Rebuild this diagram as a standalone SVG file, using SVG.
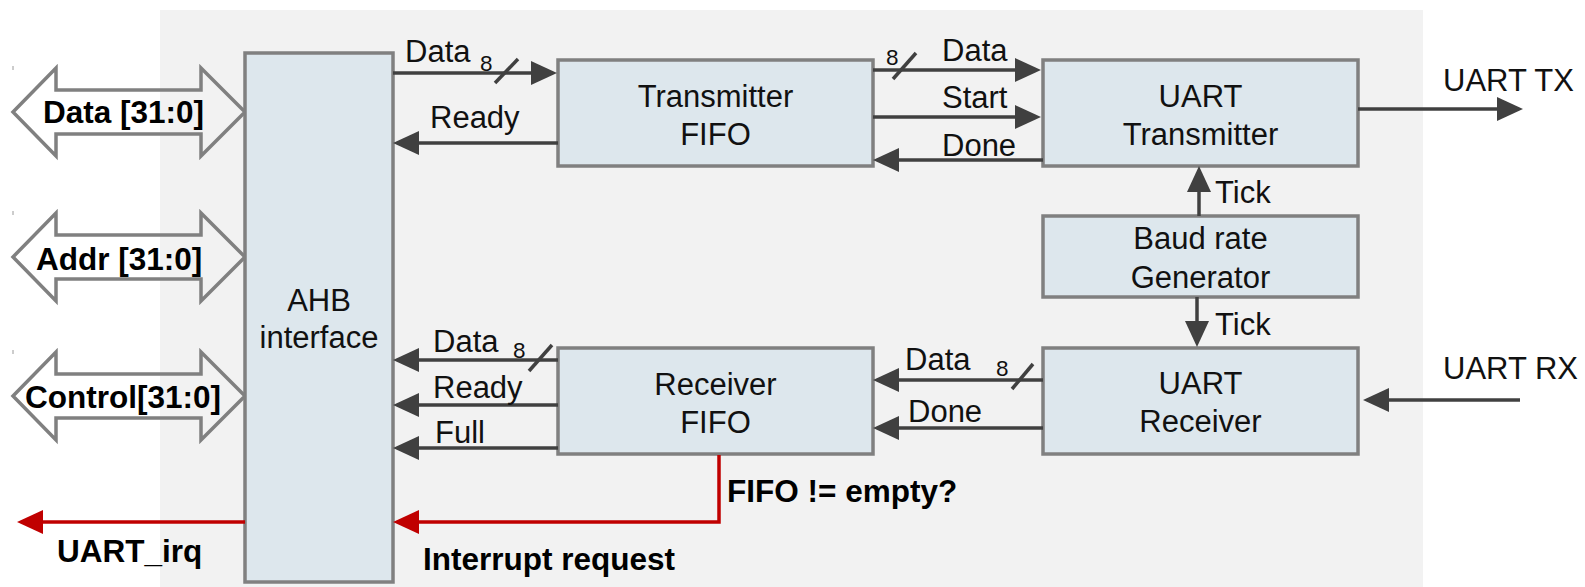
<svg xmlns="http://www.w3.org/2000/svg" width="1585" height="587" viewBox="0 0 1585 587">
  <style>
    .blk { fill: #dde7ed; stroke: #808080; stroke-width: 3.5; }
    .bus { fill: none; stroke: #808080; stroke-width: 3.5; stroke-linejoin: miter; }
    .wire { fill: none; stroke: #404040; stroke-width: 3.5; }
    .irq { fill: none; stroke: #c00000; stroke-width: 3.5; }
    .slash { stroke: #404040; stroke-width: 3.5; }
    .lbl { font-family: "Liberation Sans", Arial, sans-serif; font-size: 31px; fill: #111111; }
    .ctr { text-anchor: middle; }
    .bold { font-weight: bold; font-size: 31.5px; fill: #000000; }
    .width { font-family: "Liberation Sans", Arial, sans-serif; font-size: 22.5px; fill: #111111; }
    .tick { stroke: #9a9a9a; stroke-width: 1; }
  </style>
  <defs>
    <marker id="ah" markerUnits="userSpaceOnUse" markerWidth="26" markerHeight="24" refX="11" refY="12" orient="auto">
      <path d="M0,0 L26,12 L0,24 z" fill="#404040"/>
    </marker>
    <marker id="ahRed" markerUnits="userSpaceOnUse" markerWidth="26" markerHeight="24" refX="11" refY="12" orient="auto">
      <path d="M0,0 L26,12 L0,24 z" fill="#c00000"/>
    </marker>
  </defs>

  <!-- peripheral boundary -->
  <rect x="160" y="10" width="1263" height="577" fill="#f2f2f2"/>

  <!-- bus ports -->
  <g id="bus-data">
    <line class="tick" x1="13" y1="66" x2="13" y2="70"/>
    <polygon class="bus" points="13,112 56,68 56,90 201,90 201,68 245,112 201,156 201,134 56,134 56,156"/>
    <text class="lbl bold" x="43" y="123">Data [31:0]</text>
  </g>
  <g id="bus-addr">
    <line class="tick" x1="13" y1="211" x2="13" y2="215"/>
    <polygon class="bus" points="13,257 56,213 56,235 201,235 201,213 245,257 201,301 201,279 56,279 56,301"/>
    <text class="lbl bold" x="36" y="270">Addr [31:0]</text>
  </g>
  <g id="bus-control">
    <line class="tick" x1="13" y1="350" x2="13" y2="354"/>
    <polygon class="bus" points="13,396 56,352 56,374 201,374 201,352 245,396 201,440 201,418 56,418 56,440"/>
    <text class="lbl bold" x="25" y="408">Control[31:0]</text>
  </g>

  <!-- blocks -->
  <g id="ahb-interface">
    <rect class="blk" x="245" y="53" width="148" height="529"/>
    <text class="lbl ctr" x="319" y="311">AHB</text>
    <text class="lbl ctr" x="319" y="348">interface</text>
  </g>
  <g id="tx-fifo">
    <rect class="blk" x="558" y="60" width="315" height="106"/>
    <text class="lbl ctr" x="715.5" y="107">Transmitter</text>
    <text class="lbl ctr" x="715.5" y="145">FIFO</text>
  </g>
  <g id="uart-transmitter">
    <rect class="blk" x="1043" y="60" width="315" height="106"/>
    <text class="lbl ctr" x="1200.5" y="107">UART</text>
    <text class="lbl ctr" x="1200.5" y="145">Transmitter</text>
  </g>
  <g id="baud-generator">
    <rect class="blk" x="1043" y="216" width="315" height="81"/>
    <text class="lbl ctr" x="1200.5" y="249">Baud rate</text>
    <text class="lbl ctr" x="1200.5" y="288">Generator</text>
  </g>
  <g id="uart-receiver">
    <rect class="blk" x="1043" y="348" width="315" height="106"/>
    <text class="lbl ctr" x="1200.5" y="394">UART</text>
    <text class="lbl ctr" x="1200.5" y="432">Receiver</text>
  </g>
  <g id="rx-fifo">
    <rect class="blk" x="558" y="348" width="315" height="106"/>
    <text class="lbl ctr" x="715.5" y="395">Receiver</text>
    <text class="lbl ctr" x="715.5" y="433">FIFO</text>
  </g>

  <!-- signal connections -->
  <g id="connectors">
    <!-- transmit path -->
    <line class="wire" x1="393" y1="73" x2="542" y2="73" marker-end="url(#ah)"/>
    <line class="slash" x1="495" y1="83" x2="518" y2="59"/>
    <text class="width" x="480" y="71">8</text>
    <text class="lbl" x="405" y="62">Data</text>

    <line class="wire" x1="558" y1="143" x2="408" y2="143" marker-end="url(#ah)"/>
    <text class="lbl" x="430" y="128">Ready</text>

    <line class="wire" x1="873" y1="70" x2="1026" y2="70" marker-end="url(#ah)"/>
    <line class="slash" x1="893" y1="79" x2="916" y2="53"/>
    <text class="width" x="886" y="65">8</text>
    <text class="lbl" x="942" y="61">Data</text>

    <line class="wire" x1="873" y1="117" x2="1026" y2="117" marker-end="url(#ah)"/>
    <text class="lbl" x="942" y="108">Start</text>

    <line class="wire" x1="1043" y1="160" x2="888" y2="160" marker-end="url(#ah)"/>
    <text class="lbl" x="942" y="156">Done</text>

    <line class="wire" x1="1358" y1="109" x2="1508" y2="109" marker-end="url(#ah)"/>
    <text class="lbl" x="1443" y="91">UART TX</text>

    <!-- baud ticks -->
    <line class="wire" x1="1199" y1="216" x2="1199" y2="181" marker-end="url(#ah)"/>
    <text class="lbl" x="1215" y="203">Tick</text>
    <line class="wire" x1="1197" y1="297" x2="1197" y2="332" marker-end="url(#ah)"/>
    <text class="lbl" x="1215" y="335">Tick</text>

    <!-- receive path -->
    <line class="wire" x1="1520" y1="400" x2="1378" y2="400" marker-end="url(#ah)"/>
    <text class="lbl" x="1443" y="379">UART RX</text>

    <line class="wire" x1="1043" y1="380" x2="888" y2="380" marker-end="url(#ah)"/>
    <line class="slash" x1="1012" y1="389" x2="1033" y2="364"/>
    <text class="width" x="996" y="376">8</text>
    <text class="lbl" x="905" y="370">Data</text>

    <line class="wire" x1="1043" y1="428" x2="888" y2="428" marker-end="url(#ah)"/>
    <text class="lbl" x="908" y="422">Done</text>

    <line class="wire" x1="558" y1="360" x2="408" y2="360" marker-end="url(#ah)"/>
    <line class="slash" x1="529" y1="371" x2="552" y2="345"/>
    <text class="width" x="513" y="358">8</text>
    <text class="lbl" x="433" y="352">Data</text>

    <line class="wire" x1="558" y1="405" x2="408" y2="405" marker-end="url(#ah)"/>
    <text class="lbl" x="433" y="398">Ready</text>

    <line class="wire" x1="558" y1="448" x2="408" y2="448" marker-end="url(#ah)"/>
    <text class="lbl" x="435" y="443">Full</text>

    <!-- interrupt -->
    <path class="irq" d="M719,455 V522 H408" marker-end="url(#ahRed)"/>
    <text class="lbl bold" x="727" y="502">FIFO != empty?</text>
    <text class="lbl bold" x="423" y="570">Interrupt request</text>

    <line class="irq" x1="245" y1="522" x2="32" y2="522" marker-end="url(#ahRed)"/>
    <text class="lbl bold" x="57" y="562">UART_irq</text>
  </g>
</svg>
